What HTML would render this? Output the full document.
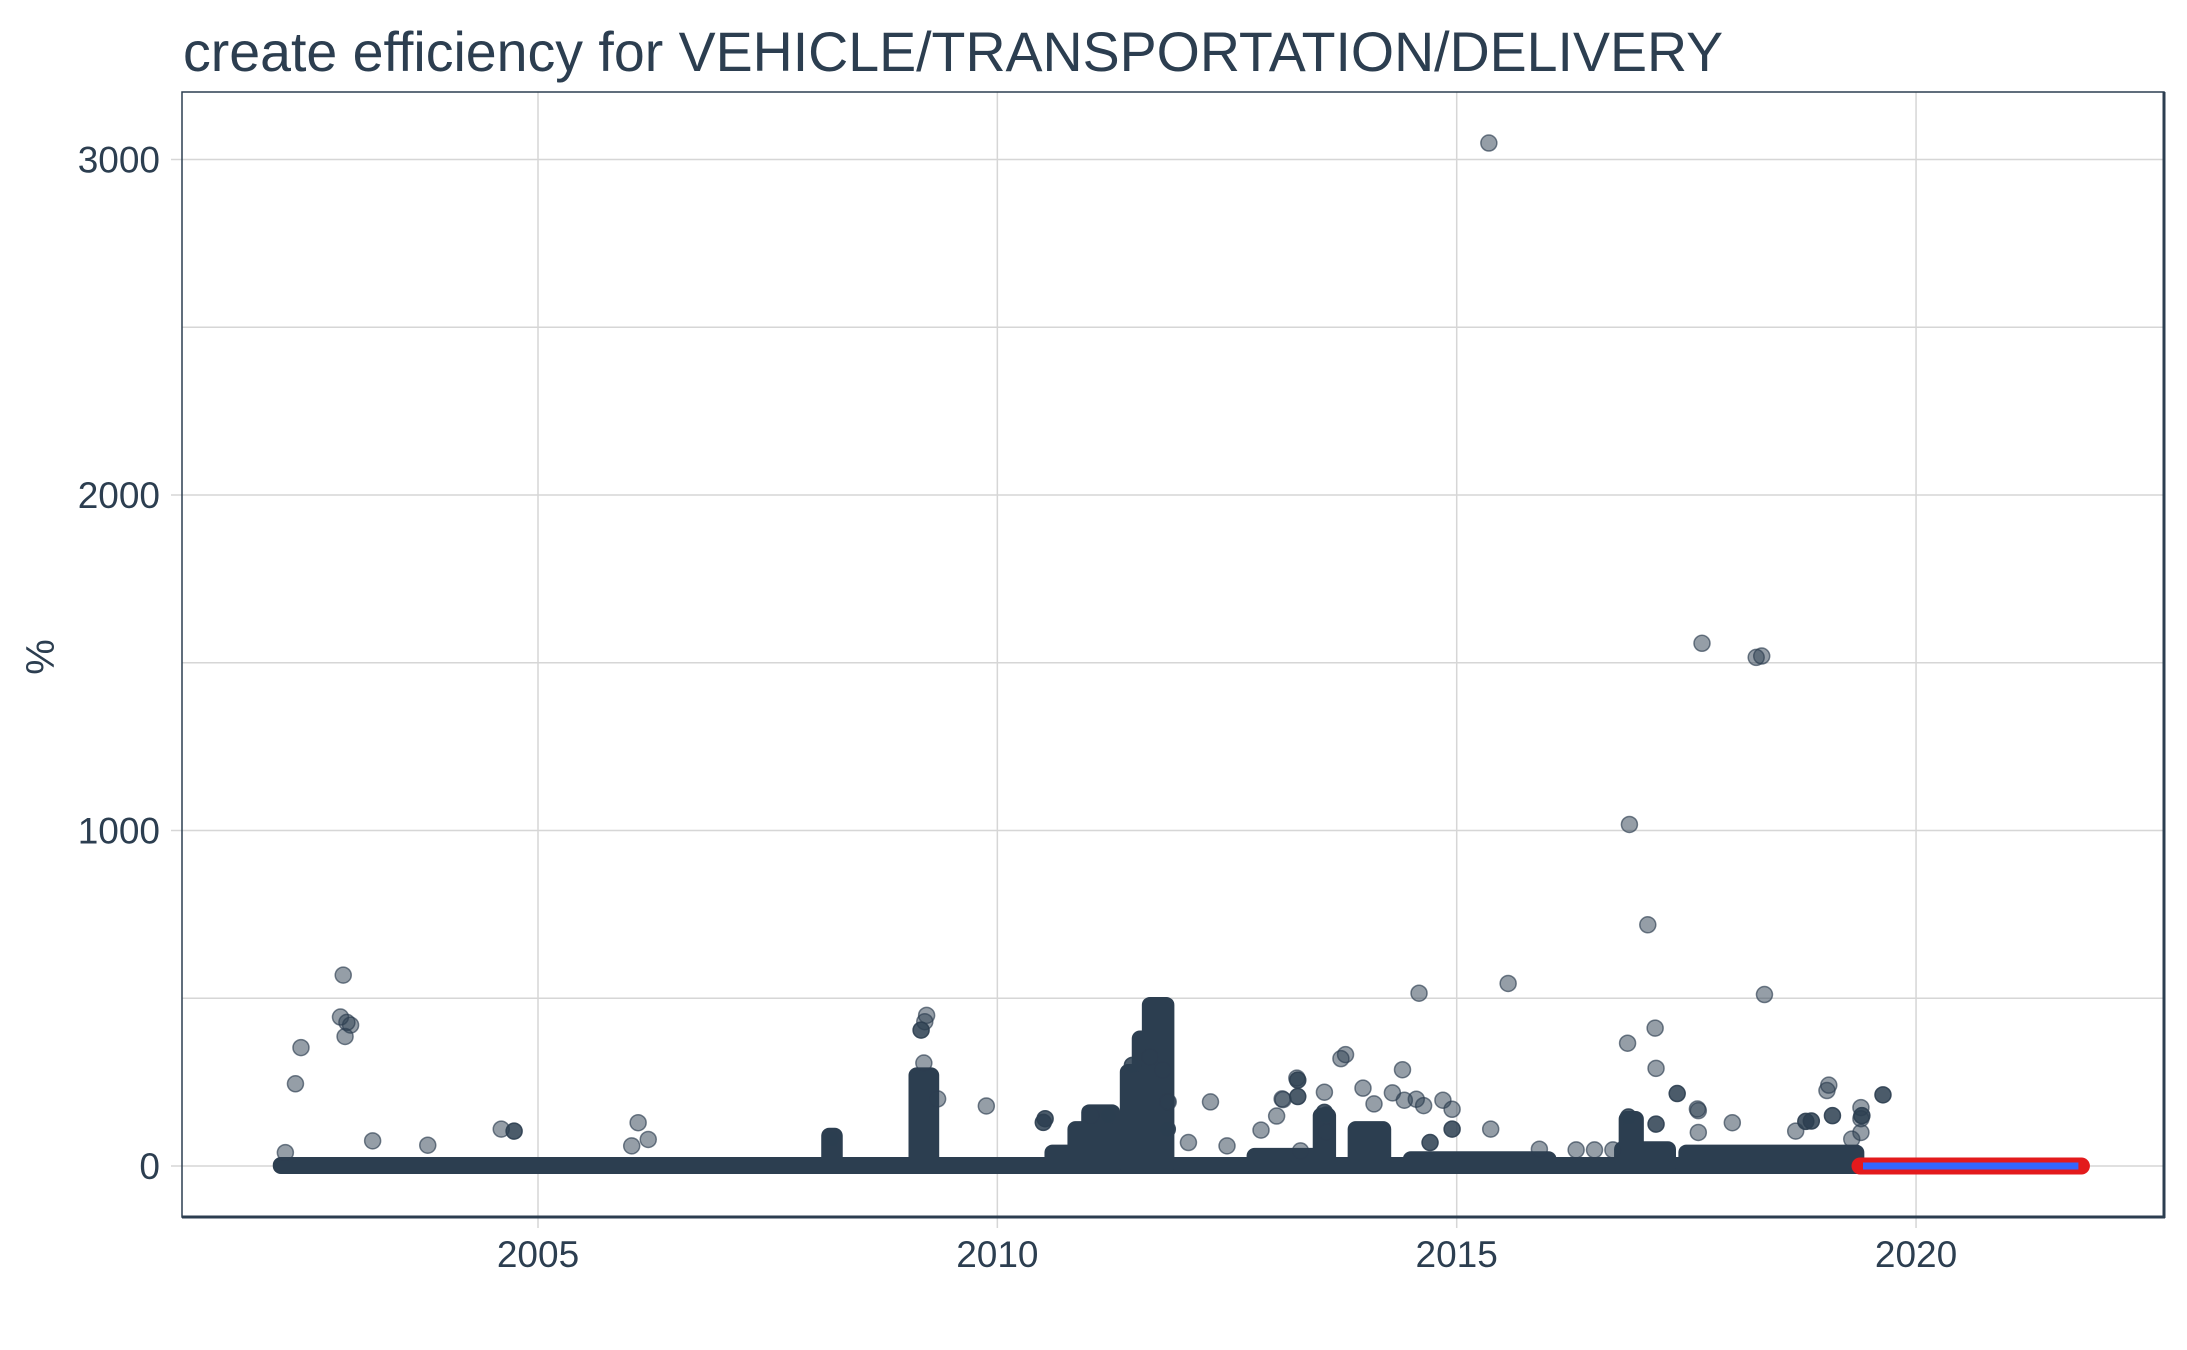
<!DOCTYPE html>
<html><head><meta charset="utf-8"><style>
body{margin:0;background:#fff;}
svg{display:block;font-family:"Liberation Sans",Arial,sans-serif;}
</style></head><body>
<svg id="chart" width="2187" height="1350" viewBox="0 0 2187 1350">
<rect width="2187" height="1350" fill="#fff"/>
<text x="183" y="71" font-size="55.5" fill="#2c3e50">create efficiency for VEHICLE/TRANSPORTATION/DELIVERY</text>
<g id="grid"></g>
<g id="marks"></g>
<rect x="182" y="92" width="1982" height="1125" fill="none" stroke="#2c3e50" stroke-width="1.5"/>
<line x1="182" y1="1217" x2="2165" y2="1217" stroke="#2c3e50" stroke-width="3"/>
<line x1="2164" y1="92" x2="2164" y2="1218" stroke="#2c3e50" stroke-width="3"/>
<g id="axes"></g>
<text transform="translate(54,657) rotate(-90)" text-anchor="middle" font-size="40" fill="#2c3e50">%</text>
</svg>
<script>
const xTicks = [2005, 2010, 2015, 2020];
const yTicks = [0, 1000, 2000, 3000];
const yMinor = [500, 1500, 2500];
const outlierYears = [2015.35,2017.67,2018.26,2018.32,2016.88,2017.08,2018.35,2014.59,2015.56,2017.16,2016.86,2017.17,2014.41,2013.79,2013.74,2002.88,2002.85,2002.92,2002.96,2002.9,2002.42,2002.36,2003.2,2003.8,2006.09,2006.2,2006.02,2009.23,2009.21,2009.2,2009.88,2009.35,2011.86,2012.32,2013.26,2013.1,2013.56,2013.98,2014.56,2014.64,2018.0,2019.05,2019.03,2019.4,2019.4,2019.4,2017.62,2002.25,2004.6,2014.1,2011.85,2012.87,2013.04,2013.11,2013.58,2014.3,2014.43,2014.85,2014.95,2015.37,2017.63,2018.69,2019.3,2011.8,2011.66,2011.02,2012.08,2016.3,2016.5,2016.7,2017.63,2015.9,2012.5,2013.3];
const outlierValues = [3049,1558,1516,1520,1018,719,511,515,544,411,366,291,287,332,320,569,444,428,420,386,353,245,75,62,129,79,60,449,430,307,179,200,191,191,262,200,220,232,199,180,129,241,225,174,141,100,170,40,110,185,192,107,149,198,101,218,196,196,169,110,165,104,80,286,325,150,70,48,48,48,100,50,60,45];
const darkYears = [2009.17,2004.74,2010.52,2017.4,2019.64,2018.8,2013.56,2008.2,2013.27,2013.27,2013.58,2014.95,2014.71,2016.87,2018.86,2019.09,2019.41,2011.47,2011.85,2011.21,2017.17,2010.5];
const darkValues = [405,104,141,216,212,133,160,80,256,207,152,110,70,146,134,150,150,300,110,150,125,130];
const clusterStart = [2009.12,2010.85,2011.42,2011.55,2011.66,2012.8,2013.9,2016.85,2017.5,2014.5,2008.17,2013.52,2011.0,2016.8,2010.6];
const clusterEnd = [2009.28,2011.3,2011.55,2011.66,2011.84,2013.5,2014.2,2016.95,2019.35,2016.0,2008.23,2013.6,2011.25,2017.3,2010.85];
const clusterTop = [270,110,280,380,480,30,110,140,40,20,90,150,160,50,40];
const baselineStart = 2002.2, baselineEnd = 2019.4;
const refStart = 2019.39, refEnd = 2021.8, refValue = 0;

const X = yr => 538 + (yr - 2005) * 91.87;
const Y = v => 1166 - v * 0.3355;
const NS = "http://www.w3.org/2000/svg";
function mk(tag, attrs, parent){const e=document.createElementNS(NS,tag);for(const k in attrs)e.setAttribute(k,attrs[k]);parent.appendChild(e);return e;}
const grid=document.getElementById('grid'), marks=document.getElementById('marks'), axes=document.getElementById('axes');
yMinor.concat(yTicks).forEach(v=>{
  const l=mk('line',{x1:182,x2:2164,y1:Y(v),y2:Y(v),stroke:'#d6d6d6','stroke-width':1.5},grid);
  
  
});
xTicks.forEach(t=>{
  const l=mk('line',{x1:X(t),x2:X(t),y1:92,y2:1228,stroke:'#d6d6d6','stroke-width':1.5},grid);
  
  
  const tx=mk('text',{x:X(t),y:1267,'text-anchor':'middle','font-size':37,fill:'#2c3e50'},axes);
  tx.textContent=t;
  
  
});
yTicks.forEach(t=>{
  const l=mk('line',{x1:171,x2:182,y1:Y(t),y2:Y(t),stroke:'#d6d6d6','stroke-width':1.5},grid);
  
  
  const tx=mk('text',{x:160,y:Y(t)+13,'text-anchor':'end','font-size':37,fill:'#2c3e50'},axes);
  tx.textContent=t;
  
  
});
const band=mk('rect',{x:X(baselineStart)-8,y:Y(0)-9,width:X(baselineEnd)-X(baselineStart)+16,height:17,rx:8,fill:'#2c3e50'},marks);


clusterStart.forEach((s,i)=>{
  const r=mk('rect',{x:X(s)-8,y:Y(clusterTop[i])-8,width:X(clusterEnd[i])-X(s)+16,height:Y(0)-Y(clusterTop[i])+16,rx:8,fill:'#2c3e50'},marks);
  
  
});
outlierYears.forEach((yr,i)=>{
  const c=mk('circle',{cx:X(yr),cy:Y(outlierValues[i]),r:8,fill:'rgba(44,62,80,0.5)',stroke:'rgba(44,62,80,0.65)','stroke-width':1.5},marks);
  
  
});
darkYears.forEach((yr,i)=>{
  const c=mk('circle',{cx:X(yr),cy:Y(darkValues[i]),r:8,fill:'rgba(44,62,80,0.85)',stroke:'rgba(44,62,80,0.9)','stroke-width':1.5},marks);
  
  
});
const red=mk('line',{x1:X(refStart),x2:X(refEnd),y1:Y(refValue),y2:Y(refValue),stroke:'#e31a1c','stroke-width':17,'stroke-linecap':'round'},marks);


const blue=mk('line',{x1:X(refStart)+3,x2:X(refEnd)-3,y1:Y(refValue),y2:Y(refValue),stroke:'#3366ff','stroke-width':7},marks);


</script>
</body></html>
